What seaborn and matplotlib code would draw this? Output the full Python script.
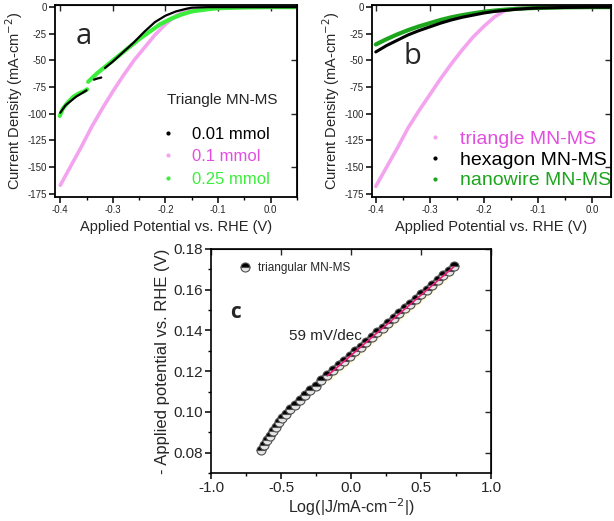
import numpy as np
import pandas as pd
import matplotlib
matplotlib.use("Agg")
import matplotlib.pyplot as plt
from matplotlib.lines import Line2D
from matplotlib.ticker import MultipleLocator
import seaborn as sns

sns.set_style("ticks")
plt.rcParams["font.family"] = ["Liberation Sans", "DejaVu Sans"]

# ---------------- Panel a data ----------------
a_black_x1 = [-0.400, -0.390, -0.380, -0.370, -0.360, -0.350]
a_black_y1 = [-99, -92, -88, -84, -81, -78]
a_black_x2 = [-0.336, -0.330, -0.322]
a_black_y2 = [-68, -67, -66]
a_black_x3 = [-0.315, -0.300, -0.280, -0.260, -0.240, -0.220, -0.200, -0.180, -0.160,
              -0.150, -0.120, -0.080, 0.0, 0.05]
a_black_y3 = [-57, -51, -42, -33, -23, -14, -8, -4, -1.5, -0.5, 0, 0, 0, 0]

a_green_x1 = [-0.401, -0.395, -0.385, -0.375, -0.365, -0.355, -0.349]
a_green_y1 = [-102, -95, -89, -84, -81, -79, -77]
a_green_x2 = [-0.347, -0.330, -0.310, -0.290, -0.270, -0.250, -0.230, -0.210, -0.190,
              -0.170, -0.150, -0.120, -0.100, -0.050, 0.0, 0.05]
a_green_y2 = [-70, -62, -54, -46, -38, -30, -23, -16, -11, -7, -4, -2, -1, -0.3, 0, 0]

a_pink_x = [-0.400, -0.390, -0.380, -0.360, -0.340, -0.320, -0.300, -0.280, -0.260, -0.240,
            -0.220, -0.200, -0.180, -0.160, -0.140, -0.120, -0.100, -0.050, 0.0, 0.05]
a_pink_y = [-167, -158, -149, -131, -112, -95, -79, -64, -50, -38,
            -26, -16, -8, -3, -1, -0.3, 0, 0, 0, 0]

a_title = "Triangle MN-MS"
a_labels = ["0.01 mmol", "0.1 mmol", "0.25 mmol"]

# ---------------- Panel b data ----------------
b_pink_x = [-0.400, -0.390, -0.380, -0.360, -0.340, -0.320, -0.300, -0.280, -0.260, -0.240,
            -0.220, -0.200, -0.180, -0.160, -0.140, -0.100, 0.0, 0.04]
b_pink_y = [-168, -159, -150, -132, -113, -97, -82, -67, -53, -40,
            -28, -18, -9, -3, -1, 0, 0, 0]
b_x = [-0.400, -0.380, -0.360, -0.340, -0.320, -0.300, -0.280, -0.260, -0.240, -0.220,
       -0.200, -0.180, -0.160, -0.140, -0.120, -0.100, -0.050, 0.0, 0.04]
b_hex_y = [-42, -36, -31, -26, -22, -18.5, -15, -12, -9.5, -7.5,
           -5.5, -4, -3, -2, -1.3, -0.8, -0.3, 0, 0]
b_wire_y = [-35, -30, -25.5, -21.5, -18, -15, -12, -9.5, -7.5, -5.8,
            -4.3, -3.2, -2.3, -1.6, -1.1, -0.7, -0.2, 0, 0]
b_labels = ["triangle MN-MS", "hexagon MN-MS", "nanowire MN-MS"]

# ---------------- Panel c data ----------------
c_x = [-0.643, -0.619, -0.598, -0.579, -0.559, -0.538, -0.516, -0.491, -0.464, -0.434,
       -0.400, -0.364, -0.326, -0.291, -0.252, -0.212, -0.169, -0.126, -0.088, -0.049,
       -0.010, 0.030, 0.069, 0.108, 0.148, 0.187, 0.226, 0.266, 0.305, 0.344,
       0.384, 0.423, 0.462, 0.502, 0.541, 0.580, 0.620, 0.659, 0.698, 0.738]
c_y = [0.0813, 0.0839, 0.0862, 0.0883, 0.0907, 0.0928, 0.0949, 0.0970, 0.0990, 0.1013,
       0.1034, 0.1059, 0.1083, 0.1106, 0.1129, 0.1155, 0.1181, 0.1206, 0.1228, 0.1251,
       0.1274, 0.1298, 0.1321, 0.1344, 0.1368, 0.1391, 0.1414, 0.1438, 0.1461, 0.1484,
       0.1508, 0.1531, 0.1554, 0.1578, 0.1601, 0.1624, 0.1648, 0.1671, 0.1694, 0.1718]
fit_x = [-0.17, 0.735]
fit_y = [0.1177, 0.1713]
band_lo = [0.1140, 0.1676]

# colours
PINK_LINE = "#f4a4ef"
PINK_TXT = "#e24fe0"
GREEN_A = "#3cee3c"
GREEN_B = "#1ea51e"

fig = plt.figure(figsize=(6.14, 5.21), dpi=100)
W, H = 614, 521


def px_axes(l, t, r, b):
    return fig.add_axes([l / W, 1 - b / H, (r - l) / W, (b - t) / H])


def style_axes(ax, lw=1.3, ticksize=7, pad=2):
    for s in ax.spines.values():
        s.set_linewidth(lw)
        s.set_color("black")
        s.set_visible(True)
    ax.tick_params(axis="both", which="major", direction="out", length=4, width=1.1,
                   labelsize=ticksize, color="black", pad=pad)
    ax.tick_params(axis="both", which="minor", direction="out", length=2.2, width=1.0,
                   color="black")
    top = ax.secondary_xaxis("top")
    top.tick_params(axis="x", which="both", direction="in", labeltop=False, width=1.0)
    top.tick_params(axis="x", which="major", length=4)
    top.tick_params(axis="x", which="minor", length=2.2)
    right = ax.secondary_yaxis("right")
    right.tick_params(axis="y", which="both", direction="in", labelright=False, width=1.0)
    right.tick_params(axis="y", which="major", length=4)
    right.tick_params(axis="y", which="minor", length=2.2)
    return top, right


def seg_df(pairs):
    rows = []
    for i, (xs, ys) in enumerate(pairs):
        for x, y in zip(xs, ys):
            rows.append((x, y, i))
    return pd.DataFrame(rows, columns=["x", "y", "seg"])


# ================= Panel a =================
axa = px_axes(55, 5, 297, 197)
sns.lineplot(data=pd.DataFrame({"x": a_pink_x, "y": a_pink_y}), x="x", y="y", ax=axa,
             color=PINK_LINE, lw=2.6, sort=False)
sns.lineplot(data=seg_df([(a_green_x1, a_green_y1), (a_green_x2, a_green_y2)]), x="x", y="y",
             units="seg", estimator=None, ax=axa, color=GREEN_A, lw=3.0, sort=False)
sns.lineplot(data=seg_df([(a_black_x1, a_black_y1), (a_black_x2, a_black_y2),
                          (a_black_x3, a_black_y3)]), x="x", y="y",
             units="seg", estimator=None, ax=axa, color="black", lw=1.6, sort=False)
axa.set_xlim(-0.41, 0.05)
axa.set_ylim(-178, 2)
axa.xaxis.set_minor_locator(MultipleLocator(0.05))
axa.set_xticks([-0.4, -0.3, -0.2, -0.1, 0.0])
axa.set_xticklabels(["-0.4", "-0.3", "-0.2", "-0.1", "0.0"])
axa.set_yticks([0, -25, -50, -75, -100, -125, -150, -175])
axa.set_yticklabels(["0", "-25", "-50", "-75", "-100", "-125", "-150", "-175"])
style_axes(axa)
axa.set_xlabel("Applied Potential vs. RHE (V)", fontsize=10.5, labelpad=3)
axa.set_ylabel("Current Density (mA-cm$^{-2}$)", fontsize=10.5, labelpad=2)
axa.text(0.085, 0.835, "a", transform=axa.transAxes, fontsize=21, family="Open Sans",
         va="center")
fig.text(167 / W, 1 - 100 / H, a_title, fontsize=11, va="center", ha="left")
ha = [Line2D([], [], ls="", marker="o", markersize=2, color=c)
      for c in ["black", PINK_LINE, GREEN_A]]
lega = axa.legend(ha, a_labels, loc="upper left",
                  bbox_to_anchor=(160 / W, 1 - 127 / H), bbox_transform=fig.transFigure,
                  frameon=False, fontsize=12, handlelength=1.0, handletextpad=0.95,
                  labelspacing=0.44, borderaxespad=0, borderpad=0)
for t, c in zip(lega.get_texts(), ["black", PINK_TXT, GREEN_A]):
    t.set_color(c)

# ================= Panel b =================
axb = px_axes(372, 5, 611, 197)
sns.lineplot(x=b_pink_x, y=b_pink_y, ax=axb, color=PINK_LINE, lw=2.6, sort=False)
sns.lineplot(x=b_x, y=b_wire_y, ax=axb, color=GREEN_B, lw=3.0, sort=False)
sns.lineplot(x=b_x, y=b_hex_y, ax=axb, color="black", lw=2.2, sort=False)
axb.set_xlim(-0.407, 0.035)
axb.set_ylim(-178, 2)
axb.xaxis.set_minor_locator(MultipleLocator(0.05))
axb.set_xticks([-0.4, -0.3, -0.2, -0.1, 0.0])
axb.set_xticklabels(["-0.4", "-0.3", "-0.2", "-0.1", "0.0"])
axb.set_yticks([0, -25, -50, -75, -100, -125, -150, -175])
axb.set_yticklabels(["0", "-25", "-50", "-75", "-100", "-125", "-150", "-175"])
style_axes(axb)
axb.set_xlabel("Applied Potential vs. RHE (V)", fontsize=10.5, labelpad=3)
axb.set_ylabel("Current Density (mA-cm$^{-2}$)", fontsize=10.5, labelpad=2)
axb.text(0.13, 0.73, "b", transform=axb.transAxes, fontsize=21, family="Open Sans",
         va="center")
hb = [Line2D([], [], ls="", marker="o", markersize=2, color=c)
      for c in [PINK_LINE, "black", GREEN_B]]
legb = axb.legend(hb, b_labels, loc="upper left",
                  bbox_to_anchor=(425 / W, 1 - 130 / H), bbox_transform=fig.transFigure,
                  frameon=False, fontsize=14, handlelength=1.0, handletextpad=0.8,
                  labelspacing=0.17, borderaxespad=0, borderpad=0)
for t, c in zip(legb.get_texts(), [PINK_TXT, "black", GREEN_B]):
    t.set_color(c)

# ================= Panel c =================
axc = px_axes(211, 249, 491, 473)
axc.fill_between(fit_x, band_lo, fit_y, color="#fff6cc", alpha=0.7, lw=0)
sns.lineplot(x=c_x, y=c_y, ax=axc, color="black", linestyle="", marker="o",
             markersize=6.5, fillstyle="top", markerfacecolor="black",
             markerfacecoloralt="#e6e6e6", markeredgecolor="#505050",
             markeredgewidth=0.8, sort=False)
sns.lineplot(x=fit_x, y=fit_y, ax=axc, color="#e8207a", lw=1.2, sort=False)
axc.set_xlim(-1.0, 1.0)
axc.set_ylim(0.07, 0.18)
axc.set_xticks([-1.0, -0.5, 0.0, 0.5, 1.0])
axc.set_xticklabels(["-1.0", "-0.5", "0.0", "0.5", "1.0"])
axc.set_yticks([0.08, 0.10, 0.12, 0.14, 0.16, 0.18])
axc.set_yticklabels(["0.08", "0.10", "0.12", "0.14", "0.16", "0.18"])
axc.xaxis.set_minor_locator(MultipleLocator(0.25))
axc.yaxis.set_minor_locator(MultipleLocator(0.01))
style_axes(axc, lw=1.2, ticksize=11, pad=1.5)
axc.set_xlabel("Log(|J/mA-cm$^{-2}$|)", fontsize=11.5, labelpad=1)
axc.set_ylabel("- Applied potential vs. RHE (V)", fontsize=12, labelpad=3)
axc.text(-0.86, 0.149, "c", fontsize=15, family="Open Sans", fontweight="bold",
         va="center")
axc.text(-0.44, 0.1375, "59 mV/dec", fontsize=11, va="center")
hc = [Line2D([], [], ls="", marker="o", markersize=6.5, fillstyle="top",
             markerfacecolor="black", markerfacecoloralt="#e6e6e6",
             markeredgecolor="#505050", markeredgewidth=0.8)]
axc.legend(hc, ["triangular MN-MS"], loc="upper left", frameon=False, fontsize=8.5,
           handlelength=1.0, handletextpad=0.6, borderaxespad=0, borderpad=0,
           bbox_to_anchor=(239 / W, 1 - 262 / H), bbox_transform=fig.transFigure)

fig.savefig("out.png", dpi=100)
